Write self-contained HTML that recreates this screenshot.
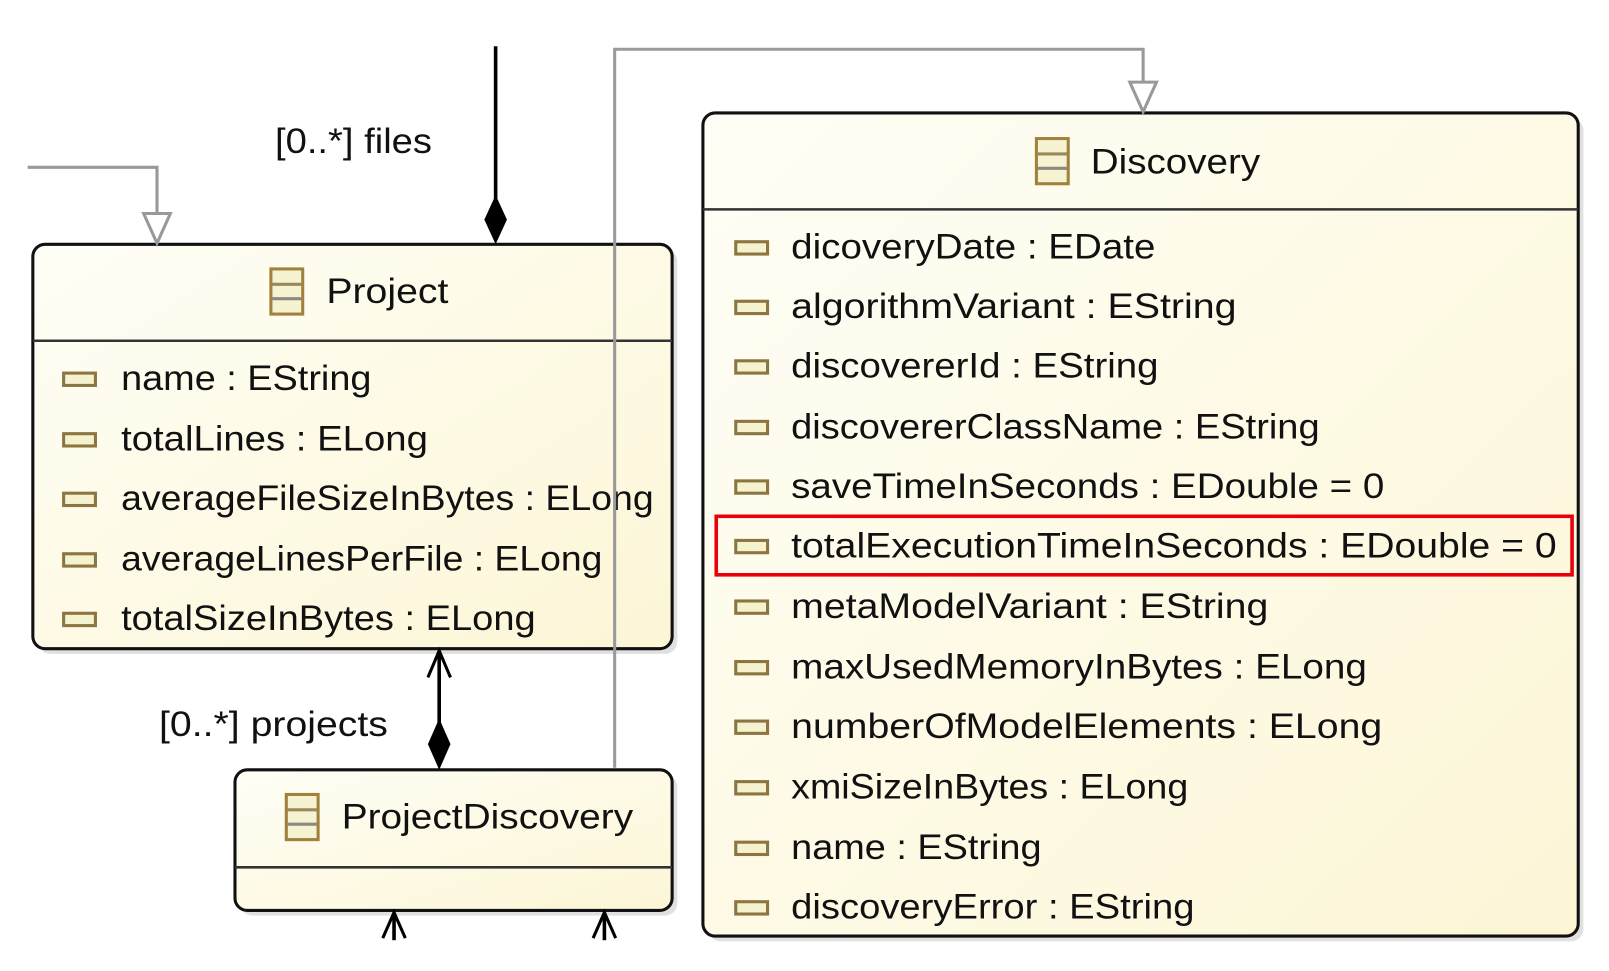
<!DOCTYPE html>
<html><head><meta charset="utf-8"><style>
html,body{margin:0;padding:0;background:#fff;width:1609px;height:971px;overflow:hidden}
svg{display:block}
text{font-family:"Liberation Sans",sans-serif;fill:#111}
</style></head><body>
<svg width="1609" height="971" viewBox="0 0 1568 946" preserveAspectRatio="none" xmlns="http://www.w3.org/2000/svg">
<defs>
<linearGradient id="g" x1="0" y1="0" x2="1" y2="1">
<stop offset="0" stop-color="#fffef6"/><stop offset="1" stop-color="#fcf6d6"/>
</linearGradient>
<g id="ic"><rect x="0" y="-5.5" width="31" height="12" fill="#f4f2cf" stroke="#8c7540" stroke-width="3"/></g>
<g id="ci"><rect x="0" y="0" width="31" height="44" fill="#f5f3d2" stroke="#a0823c" stroke-width="3"/><line x1="1" y1="15" x2="30" y2="15" stroke="#9a8a5a" stroke-width="3"/><line x1="1" y1="29" x2="30" y2="29" stroke="#8a8a80" stroke-width="3"/></g>
</defs>

<rect x="37" y="243" width="623" height="394" rx="12" fill="#ccc" opacity="0.6"/>
<rect x="234" y="755" width="426" height="137" rx="12" fill="#ccc" opacity="0.6"/>
<rect x="690" y="115" width="853" height="802" rx="12" fill="#ccc" opacity="0.6"/>

<rect x="32" y="238" width="623" height="394" rx="12" fill="url(#g)" stroke="#111" stroke-width="3"/>
<line x1="32" y1="332" x2="655" y2="332" stroke="#333" stroke-width="2.5"/>
<use href="#ci" x="264" y="262"/>
<text x="318" y="295" font-size="34" textLength="119" lengthAdjust="spacingAndGlyphs">Project</text>
<use href="#ic" x="62" y="369"/><text x="118" y="380" font-size="34" textLength="244" lengthAdjust="spacingAndGlyphs">name : EString</text>
<use href="#ic" x="62" y="428"/><text x="118" y="439" font-size="34" textLength="299" lengthAdjust="spacingAndGlyphs">totalLines : ELong</text>
<use href="#ic" x="62" y="486"/><text x="118" y="497" font-size="34" textLength="519" lengthAdjust="spacingAndGlyphs">averageFileSizeInBytes : ELong</text>
<use href="#ic" x="62" y="545"/><text x="118" y="556" font-size="34" textLength="469" lengthAdjust="spacingAndGlyphs">averageLinesPerFile : ELong</text>
<use href="#ic" x="62" y="603"/><text x="118" y="614" font-size="34" textLength="404" lengthAdjust="spacingAndGlyphs">totalSizeInBytes : ELong</text>

<rect x="229" y="750" width="426" height="137" rx="12" fill="url(#g)" stroke="#111" stroke-width="3"/>
<line x1="229" y1="845" x2="655" y2="845" stroke="#333" stroke-width="2.5"/>
<use href="#ci" x="279" y="774"/>
<text x="333" y="807" font-size="34" textLength="284" lengthAdjust="spacingAndGlyphs">ProjectDiscovery</text>

<rect x="685" y="110" width="853" height="802" rx="12" fill="url(#g)" stroke="#111" stroke-width="3"/>
<line x1="685" y1="204" x2="1538" y2="204" stroke="#333" stroke-width="2.5"/>
<use href="#ci" x="1010" y="135"/>
<text x="1063" y="169" font-size="34" textLength="165" lengthAdjust="spacingAndGlyphs">Discovery</text>
<use href="#ic" x="717" y="241"/><text x="771" y="252" font-size="34" textLength="355" lengthAdjust="spacingAndGlyphs">dicoveryDate : EDate</text>
<use href="#ic" x="717" y="299"/><text x="771" y="310" font-size="34" textLength="434" lengthAdjust="spacingAndGlyphs">algorithmVariant : EString</text>
<use href="#ic" x="717" y="357"/><text x="771" y="368" font-size="34" textLength="358" lengthAdjust="spacingAndGlyphs">discovererId : EString</text>
<use href="#ic" x="717" y="416"/><text x="771" y="427" font-size="34" textLength="515" lengthAdjust="spacingAndGlyphs">discovererClassName : EString</text>
<use href="#ic" x="717" y="474"/><text x="771" y="485" font-size="34" textLength="578" lengthAdjust="spacingAndGlyphs">saveTimeInSeconds : EDouble = 0</text>
<use href="#ic" x="717" y="532"/><text x="771" y="543" font-size="34" textLength="746" lengthAdjust="spacingAndGlyphs">totalExecutionTimeInSeconds : EDouble = 0</text>
<use href="#ic" x="717" y="591"/><text x="771" y="602" font-size="34" textLength="465" lengthAdjust="spacingAndGlyphs">metaModelVariant : EString</text>
<use href="#ic" x="717" y="650"/><text x="771" y="661" font-size="34" textLength="561" lengthAdjust="spacingAndGlyphs">maxUsedMemoryInBytes : ELong</text>
<use href="#ic" x="717" y="708"/><text x="771" y="719" font-size="34" textLength="576" lengthAdjust="spacingAndGlyphs">numberOfModelElements : ELong</text>
<use href="#ic" x="717" y="767"/><text x="771" y="778" font-size="34" textLength="387" lengthAdjust="spacingAndGlyphs">xmiSizeInBytes : ELong</text>
<use href="#ic" x="717" y="826"/><text x="771" y="837" font-size="34" textLength="244" lengthAdjust="spacingAndGlyphs">name : EString</text>
<use href="#ic" x="717" y="884"/><text x="771" y="895" font-size="34" textLength="393" lengthAdjust="spacingAndGlyphs">discoveryError : EString</text>
<rect x="698" y="503" width="834" height="57" fill="none" stroke="#e8000b" stroke-width="3.5"/>

<polyline points="599,748 599,48 1114,48 1114,80" fill="none" stroke="#999" stroke-width="3"/>
<polygon points="1101,80 1127,80 1114,109" fill="#fff" stroke="#999" stroke-width="3"/>
<polyline points="27,163 153,163 153,208" fill="none" stroke="#999" stroke-width="3"/>
<polygon points="140,208 166,208 153,237" fill="#fff" stroke="#999" stroke-width="3"/>

<line x1="483" y1="45" x2="483" y2="195" stroke="#000" stroke-width="3.5"/>
<polygon points="483,190 494,214 483,238 472,214" fill="#000"/>
<text x="268" y="149" font-size="34" textLength="153" lengthAdjust="spacingAndGlyphs">[0..*] files</text>

<line x1="428" y1="634" x2="428" y2="705" stroke="#000" stroke-width="3.5"/>
<polyline points="417,660 428,634 439,660" fill="none" stroke="#000" stroke-width="3"/>
<polygon points="428,700 439,725 428,750 417,725" fill="#000"/>
<text x="155" y="717" font-size="34" textLength="223" lengthAdjust="spacingAndGlyphs">[0..*] projects</text>

<line x1="384" y1="889" x2="384" y2="916" stroke="#000" stroke-width="3.5"/>
<polyline points="373,914 384,889 395,914" fill="none" stroke="#000" stroke-width="3"/>
<line x1="589" y1="889" x2="589" y2="916" stroke="#000" stroke-width="3.5"/>
<polyline points="578,914 589,889 600,914" fill="none" stroke="#000" stroke-width="3"/>
</svg>
</body></html>
